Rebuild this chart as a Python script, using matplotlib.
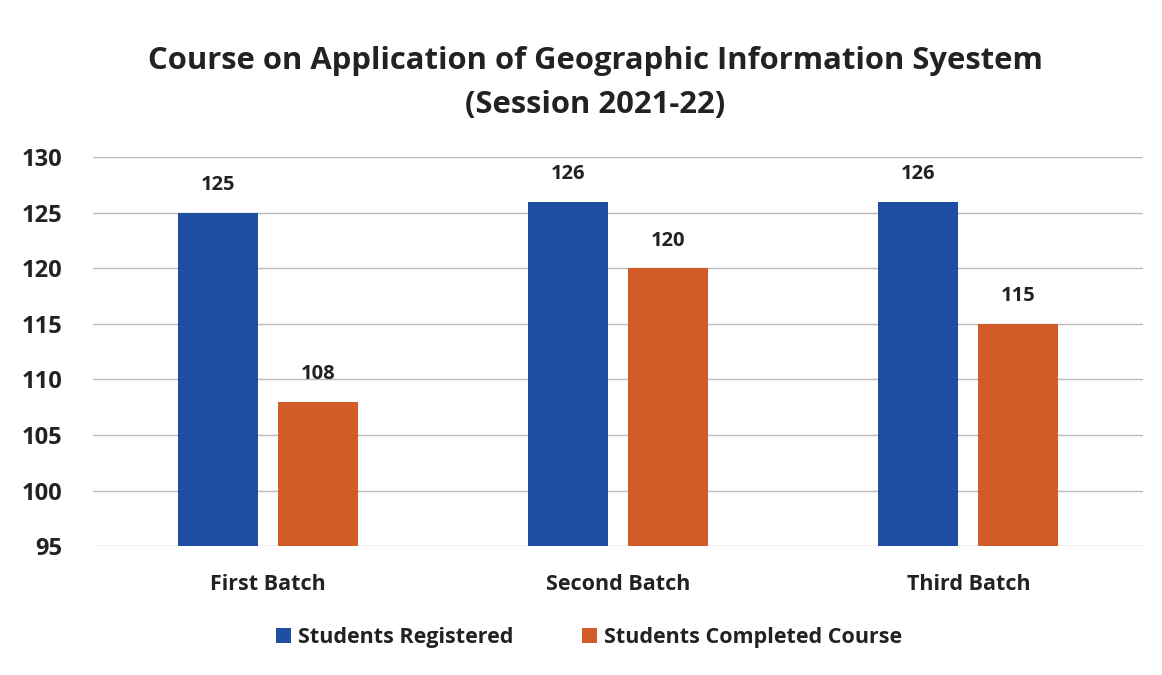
import matplotlib
matplotlib.use("Agg")
import matplotlib.pyplot as plt
import numpy as np

categories = ["First Batch", "Second Batch", "Third Batch"]
registered = [125, 126, 126]
completed = [108, 120, 115]
series_names = ["Students Registered", "Students Completed Course"]
yticks = [95, 100, 105, 110, 115, 120, 125, 130]

plt.rcParams['font.family'] = ['Open Sans', 'DejaVu Sans']

fig = plt.figure(figsize=(11.62, 6.75), dpi=100)
ax = fig.add_axes([0.080, 0.191, 0.904, 0.576])

x = np.arange(len(categories))
w = 0.229
off = 0.143
blue = "#1F4FA3"
orange = "#D35B27"
b1 = ax.bar(x - off, registered, w, color=blue, label=series_names[0], zorder=3)
b2 = ax.bar(x + off, completed, w, color=orange, label=series_names[1], zorder=3)

for bars, vals in ((b1, registered), (b2, completed)):
    for r, v in zip(bars, vals):
        ax.text(r.get_x() + r.get_width() / 2, v + 1.6, str(v), ha="center", va="bottom",
                fontsize=14.5, fontweight="bold", color="#222222")

ax.set_ylim(95, 130)
ax.set_xlim(-0.5, 2.5)
ax.set_yticks(yticks)
ax.set_yticklabels([str(t) for t in yticks], fontsize=17, fontweight="bold", color="#222222")
ax.set_xticks(x)
ax.set_xticklabels(categories, fontsize=15.5, fontweight="bold", color="#222222")
ax.tick_params(axis="x", length=0, pad=20)
ax.tick_params(axis="y", length=0, pad=22)
ax.grid(axis="y", color="#bbbbbb", linewidth=1, zorder=0)
for s in ax.spines.values():
    s.set_visible(False)

fig.text(0.512, 0.910, "Course on Application of Geographic Information Syestem",
         ha="center", va="center", fontsize=22.3, fontweight="bold", color="#222222")
fig.text(0.512, 0.845, "(Session 2021-22)",
         ha="center", va="center", fontsize=22.3, fontweight="bold", color="#222222")

leg = fig.legend(handles=[b1, b2], labels=series_names, loc="center", bbox_to_anchor=(0.507, 0.056),
                 ncol=2, frameon=False, handlelength=0.7, handleheight=0.7,
                 handletextpad=0.3, columnspacing=3.2, prop={"weight": "bold", "size": 15.5})
for t in leg.get_texts():
    t.set_color("#222222")

fig.savefig("out.png", dpi=100)
